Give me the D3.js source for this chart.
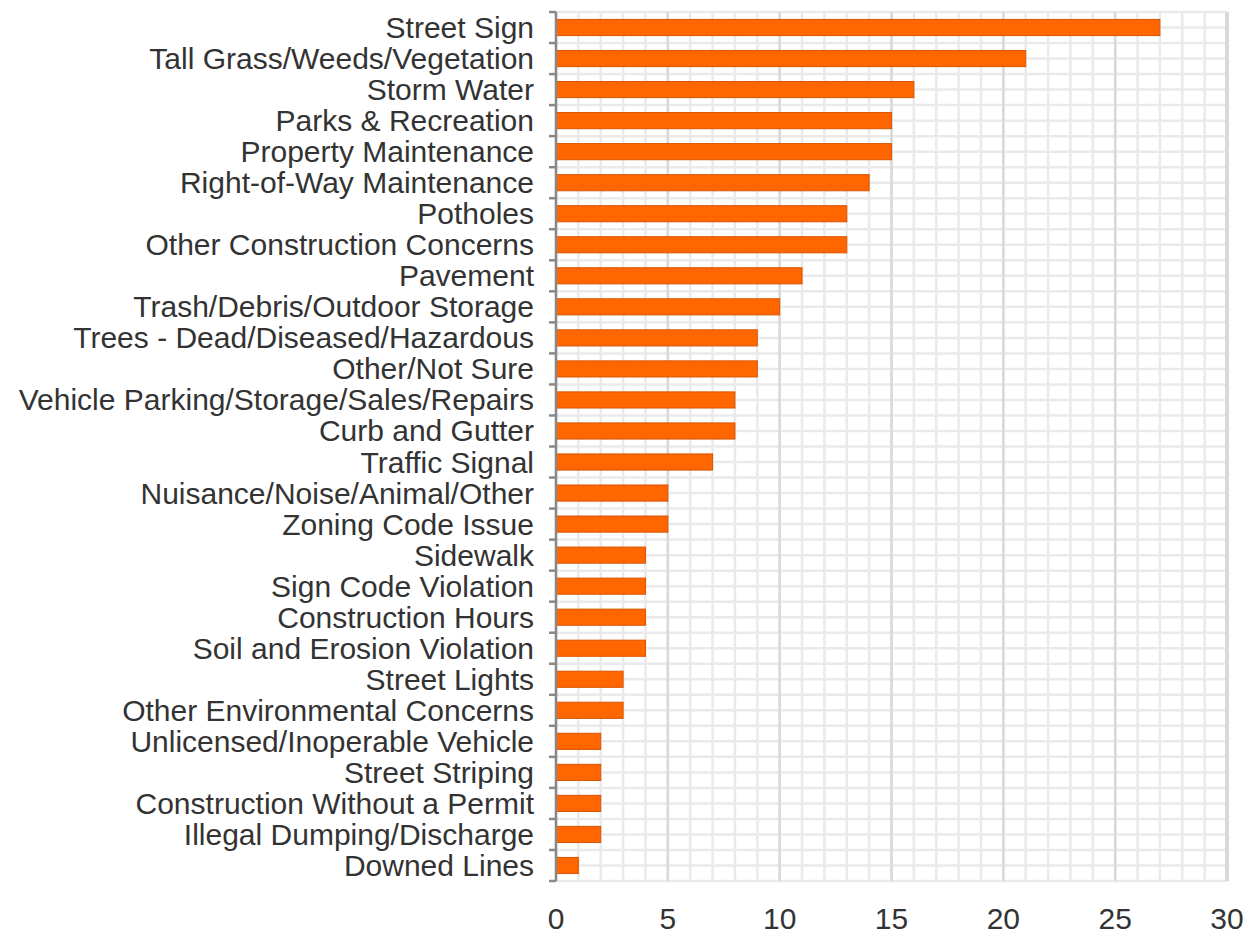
<!DOCTYPE html>
<html>
<head>
<meta charset="utf-8">
<script src="https://cdn.jsdelivr.net/npm/d3@7"></script>
<style>
  html, body { margin: 0; padding: 0; background: #fff; }
  svg { display: block; font-family: "Liberation Sans", Arial, sans-serif; }
</style>
</head>
<body>
<svg id="chart" width="1251" height="941"></svg>
<script>
// Service request categories and their counts
const categories = [
  "Street Sign", "Tall Grass/Weeds/Vegetation", "Storm Water", "Parks & Recreation",
  "Property Maintenance", "Right-of-Way Maintenance", "Potholes", "Other Construction Concerns",
  "Pavement", "Trash/Debris/Outdoor Storage", "Trees - Dead/Diseased/Hazardous", "Other/Not Sure",
  "Vehicle Parking/Storage/Sales/Repairs", "Curb and Gutter", "Traffic Signal",
  "Nuisance/Noise/Animal/Other", "Zoning Code Issue", "Sidewalk", "Sign Code Violation",
  "Construction Hours", "Soil and Erosion Violation", "Street Lights", "Other Environmental Concerns",
  "Unlicensed/Inoperable Vehicle", "Street Striping", "Construction Without a Permit",
  "Illegal Dumping/Discharge", "Downed Lines"
];
const counts = [27, 21, 16, 15, 15, 14, 13, 13, 11, 10, 9, 9, 8, 8, 7, 5, 5, 4, 4, 4, 4, 3, 3, 2, 2, 2, 2, 1];
const xTicks = [0, 5, 10, 15, 20, 25, 30];

const margin = { top: 12, right: 24, bottom: 60, left: 556 };
const W = 1251, H = 941;
const innerW = W - margin.left - margin.right;
const innerH = H - margin.top - margin.bottom;

const svg = d3.select("#chart");
const g = svg.append("g").attr("transform", `translate(${margin.left},${margin.top})`);

const x = d3.scaleLinear().domain([0, 30]).range([0, innerW]);
const y = d3.scaleBand().domain(categories).range([0, innerH]).paddingInner(0.48).paddingOuter(0.24);
const step = y.step();

// Minor grid: vertical every unit, horizontal every half band
const minorX = d3.range(0, 31, 1);
g.append("g").selectAll("line").data(minorX).join("line")
  .attr("x1", d => x(d)).attr("x2", d => x(d))
  .attr("y1", 0).attr("y2", innerH)
  .attr("stroke", "#eaeaea").attr("stroke-width", 2.5);

const minorY = d3.range(0, categories.length * 2 + 1).map(i => i * step / 2);
g.append("g").selectAll("line").data(minorY).join("line")
  .attr("x1", 0).attr("x2", innerW)
  .attr("y1", d => d).attr("y2", d => d)
  .attr("stroke", "#eaeaea").attr("stroke-width", 2.5);

// Major vertical grid every 5
g.append("g").selectAll("line").data(xTicks.slice(1)).join("line")
  .attr("x1", d => x(d)).attr("x2", d => x(d))
  .attr("y1", 0).attr("y2", innerH)
  .attr("stroke", "#d9d9d9")
  .attr("stroke-width", d => d === 30 ? 4 : 2.5);

// Bars
g.append("g").selectAll("rect").data(categories).join("rect")
  .attr("x", x(0))
  .attr("y", d => y(d))
  .attr("width", (d, i) => x(counts[i]) - x(0))
  .attr("height", y.bandwidth())
  .attr("fill", "#ff6600")
  .attr("stroke", "#d95500")
  .attr("stroke-width", 1);

// Left axis with ticks at band boundaries
const axisColor = "#888";
g.append("line")
  .attr("x1", 0).attr("x2", 0).attr("y1", 0).attr("y2", innerH)
  .attr("stroke", axisColor).attr("stroke-width", 2.5);
g.append("g").selectAll("line").data(d3.range(0, categories.length + 1)).join("line")
  .attr("x1", -7).attr("x2", 0)
  .attr("y1", d => d * step).attr("y2", d => d * step)
  .attr("stroke", axisColor).attr("stroke-width", 2.5);

// Category labels
g.append("g").selectAll("text").data(categories).join("text")
  .attr("x", -22)
  .attr("y", d => y(d) + y.bandwidth() / 2)
  .attr("dy", "0.35em")
  .attr("text-anchor", "end")
  .attr("fill", "#333")
  .attr("font-size", 30)
  .text(d => d);

// X axis labels
g.append("g").selectAll("text").data(xTicks).join("text")
  .attr("x", d => x(d))
  .attr("y", innerH + 48)
  .attr("text-anchor", "middle")
  .attr("fill", "#333")
  .attr("font-size", 30)
  .text(d => d);
</script>
</body>
</html>
